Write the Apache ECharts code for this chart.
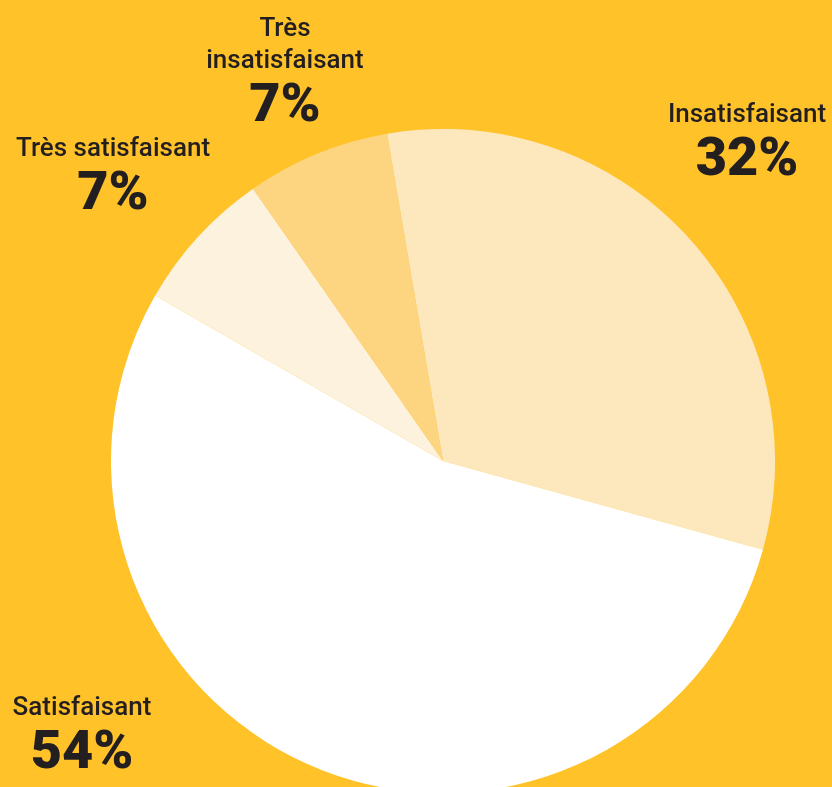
<!DOCTYPE html>
<html>
<head>
<meta charset="utf-8">
<script src="https://cdn.jsdelivr.net/npm/echarts@6/dist/echarts.min.js"></script>
<style>
html, body { margin: 0; padding: 0; background: #ffc229; }
#chart { width: 832px; height: 787px; }
</style>
</head>
<body>
<div id="chart"></div>
<script>
// données (ordre horaire depuis le haut)
var categories = ['Insatisfaisant', 'Satisfaisant', 'Très satisfaisant', 'Très insatisfaisant'];
var values = [32, 54, 7, 7];
var labelText = ['Insatisfaisant', 'Satisfaisant', 'Très satisfaisant', 'Très\ninsatisfaisant'];

var colors = ['#fde8bd', '#ffffff', '#fdf2de', '#fdd580'];
// position du haut-centre de chaque étiquette
var labelPos = [[747, 99], [82, 692], [113, 133], [285, 13]];

var chart = echarts.init(document.getElementById('chart'));

var data = [];
for (var i = 0; i < categories.length; i++) {
	data.push({
		name : categories[i],
		value : values[i],
		itemStyle : { color : colors[i] }
	});
}

chart.setOption({
	backgroundColor : '#ffc229',
	animation : false,
	series : [ {
		type : 'pie',
		center : [ 443, 461 ],
		radius : 332,
		startAngle : 99.7,
		clockwise : true,
		avoidLabelOverlap : false,
		data : data,
		labelLine : { show : false },
		label : {
			show : true,
			position : 'outside',
			color : '#231f20',
			fontFamily : 'Roboto',
			formatter : function(p) {
				var lines = labelText[p.dataIndex].split('\n');
				var s = '';
				for (var k = 0; k < lines.length; k++) {
					s += '{n|' + lines[k] + '}\n';
				}
				return s + '{p|' + p.value + '%}';
			},
			rich : {
				n : {
					fontFamily : 'Roboto',
					fontSize : 26,
					fontWeight : 500,
					lineHeight : 32,
					color : '#231f20',
					align : 'center'
				},
				p : {
					fontFamily : 'Roboto',
					fontSize : 54,
					fontWeight : 900,
					lineHeight : 60,
					color : '#231f20',
					align : 'center'
				}
			}
		},
		labelLayout : function(params) {
			var pos = labelPos[params.dataIndex];
			return {
				x : pos[0],
				y : pos[1],
				align : 'center',
				verticalAlign : 'top'
			};
		}
	} ]
});
</script>
</body>
</html>
